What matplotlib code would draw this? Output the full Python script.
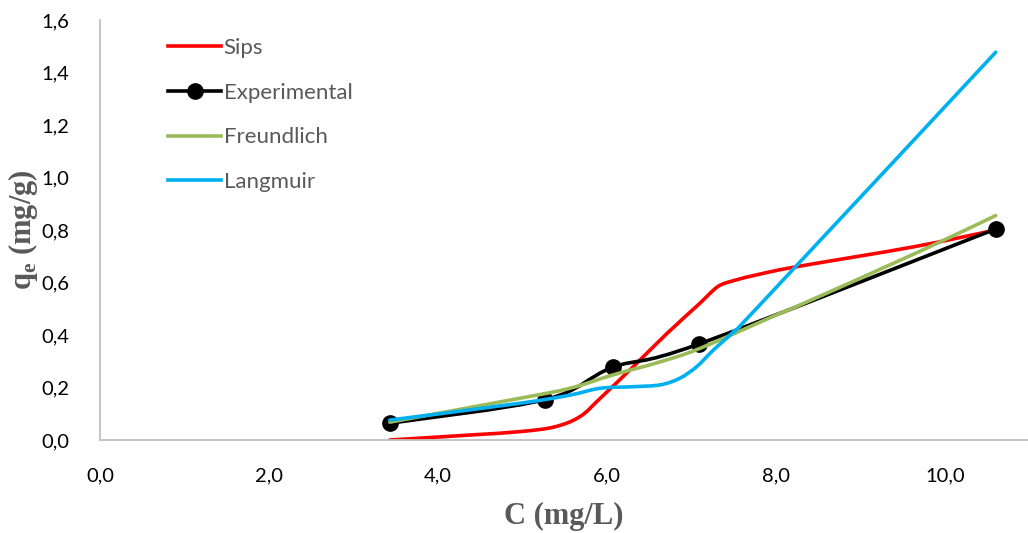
import matplotlib
matplotlib.use("Agg")
import matplotlib.pyplot as plt
from matplotlib.ticker import FuncFormatter
from matplotlib.path import Path
from matplotlib.patches import PathPatch
from matplotlib.lines import Line2D

# ---- data ----
exp_x = [3.43, 5.27, 6.07, 7.09, 10.60]
exp_y = [0.064, 0.154, 0.277, 0.366, 0.804]

sips_x = [3.43, 4.38, 4.97, 5.38, 5.68, 5.92, 6.31, 6.71, 7.10, 7.22, 7.34, 7.53, 7.81, 8.24, 9.63, 10.60]
sips_y = [0.000, 0.019, 0.032, 0.050, 0.089, 0.159, 0.279, 0.406, 0.521, 0.559, 0.590, 0.610, 0.632, 0.660, 0.736, 0.800]

freu_x = [3.43, 4.97, 5.56, 6.07, 6.60, 7.10, 8.05, 8.24, 9.65, 10.60]
freu_y = [0.068, 0.159, 0.197, 0.248, 0.295, 0.349, 0.483, 0.508, 0.711, 0.855]

lang_x = [3.43, 4.97, 5.56, 5.92, 6.31, 6.63, 6.86, 7.06, 7.26, 7.50, 7.81, 10.60]
lang_y = [0.076, 0.140, 0.171, 0.197, 0.203, 0.210, 0.235, 0.279, 0.343, 0.413, 0.515, 1.477]

x_ticks = [0, 2, 4, 6, 8, 10]
y_ticks = [0.0, 0.2, 0.4, 0.6, 0.8, 1.0, 1.2, 1.4, 1.6]

labels = ["Sips", "Experimental", "Freundlich", "Langmuir"]
colors = ["#FF0000", "#000000", "#9BBB59", "#00B0F0"]


def smooth_path(xs, ys):
    """Excel-style smoothed line as cubic Bezier path (drawn by matplotlib)."""
    pts = list(zip(xs, ys))
    n = len(pts)
    verts = [pts[0]]
    codes = [Path.MOVETO]
    for i in range(n - 1):
        p0 = pts[i - 1] if i > 0 else pts[i]
        p1 = pts[i]
        p2 = pts[i + 1]
        p3 = pts[i + 2] if i + 2 < n else pts[i + 1]
        c1 = (p1[0] + (p2[0] - p0[0]) / 6, p1[1] + (p2[1] - p0[1]) / 6)
        c2 = (p2[0] - (p3[0] - p1[0]) / 6, p2[1] - (p3[1] - p1[1]) / 6)
        verts += [c1, c2, p2]
        codes += [Path.CURVE4] * 3
    return Path(verts, codes)


W, H = 1028, 533
fig = plt.figure(figsize=(W / 100, H / 100), dpi=100)
ax = fig.add_axes([100 / W, 1 - 440 / H, (W - 100) / W, (440 - 20) / H])

lw = 2.6
series = [(sips_x, sips_y), (exp_x, exp_y), (freu_x, freu_y), (lang_x, lang_y)]
for k, ((xs, ys), c) in enumerate(zip(series, colors)):
    ax.add_patch(PathPatch(smooth_path(xs, ys), fill=False, edgecolor=c, lw=lw,
                           capstyle="round", joinstyle="round", zorder=2 + 0.1 * k))
    if k == 1:
        ax.plot(xs, ys, linestyle="none", marker="o", markersize=11, color=c, zorder=2.15)

ax.set_xlim(0, (W - 100) / 84.5)
ax.set_ylim(0, 1.6)
ax.set_xticks(x_ticks)
ax.set_yticks(y_ticks)
fmt = FuncFormatter(lambda v, p: f"{v:.1f}".replace(".", ","))
ax.xaxis.set_major_formatter(fmt)
ax.yaxis.set_major_formatter(fmt)
ax.tick_params(length=0, labelsize=14.5)
ax.tick_params(axis="y", pad=22)
ax.tick_params(axis="x", pad=20)
for lab in ax.get_xticklabels() + ax.get_yticklabels():
    lab.set_fontfamily("Lato")

for s in ["top", "right"]:
    ax.spines[s].set_visible(False)
for s in ["left", "bottom"]:
    ax.spines[s].set_color("#BFBFBF")
    ax.spines[s].set_linewidth(1.3)

ax.set_xlabel("C (mg/L)", fontfamily="Liberation Serif", fontweight="bold",
              fontsize=22, color="#595959", labelpad=12)
ax.set_ylabel(r"q$_\mathregular{e}$ (mg/g)", fontfamily="Liberation Serif", fontweight="bold",
              fontsize=22, color="#595959", labelpad=1)

handles = [Line2D([], [], color=colors[0], lw=lw),
           Line2D([], [], color=colors[1], lw=lw, marker="o", markersize=11),
           Line2D([], [], color=colors[2], lw=lw),
           Line2D([], [], color=colors[3], lw=lw)]
ax.legend(handles, labels, loc="upper left", bbox_to_anchor=(148 / W, 1 - 18 / H),
          bbox_transform=fig.transFigure, frameon=False,
          prop={"family": "Lato", "size": 16}, handlelength=2.4,
          handletextpad=0.1, labelspacing=1.11, labelcolor="#595959")

fig.savefig("out.png", dpi=100)
